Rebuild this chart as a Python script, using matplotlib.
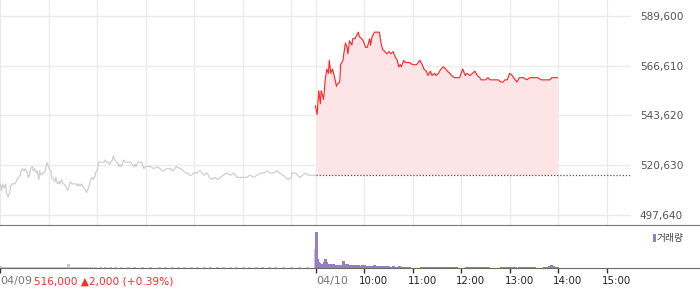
import matplotlib

matplotlib.use("Agg")
import matplotlib.pyplot as plt
from matplotlib.patches import Rectangle

# --- data (prices in thousand won, x in minutes from 09:00 of 04/09) ---
prev_close = 516.0

day1_min = [0, 2, 3, 5, 7, 8, 10, 12, 13, 15,
            16, 18, 20, 21, 23, 25, 26, 28, 30, 31,
            33, 35, 36, 38, 40, 41, 43, 45, 46, 48,
            49, 51, 53, 54, 56, 58, 59, 61, 63, 64,
            66, 68, 69, 71, 73, 74, 76, 78, 79, 81,
            82, 84, 86, 87, 89, 91, 92, 94, 96, 97,
            99, 101, 102, 104, 106, 107, 109, 111, 112, 114,
            115, 117, 119, 120, 122, 124, 125, 127, 129, 130,
            132, 134, 135, 137, 139, 140, 142, 144, 145, 147,
            148, 150, 152, 153, 155, 157, 158, 160, 162, 163,
            165, 167, 168, 170, 172, 173, 175, 177, 178, 180,
            181, 186, 190, 194, 198, 200, 202, 206, 210, 214,
            218, 223, 227, 229, 232, 234, 237, 239, 243, 247,
            250, 252, 256, 259, 262, 266, 269, 272, 276, 280,
            285, 289, 293, 297, 301, 305, 309, 313, 318, 322,
            326, 330, 334, 338, 342, 346, 350, 353, 356, 360,
            361, 365, 368, 371, 374, 378, 381, 386, 390]
day1_price = [512, 509, 512, 510, 512, 508, 506, 508, 511, 512,
              512, 512, 513, 514, 515, 516, 518, 519, 518, 519,
              518, 515, 516, 519, 520, 518, 519, 517, 518, 514,
              518, 516, 517, 517, 518, 522, 521, 519, 518, 515,
              514, 513, 515, 512, 513, 512, 514, 512, 512, 511,
              510, 509, 512, 513, 512, 512, 512, 512, 511, 512,
              511, 512, 511, 510, 509, 508, 510, 512, 514, 515,
              514, 515, 518, 518, 522, 522, 522, 522, 522, 523,
              522, 522, 521, 522, 523, 525, 523, 522, 522, 520,
              521, 520, 522, 523, 522, 522, 522, 522, 522, 521,
              520, 521, 520, 522, 522, 522, 522, 520, 519, 520,
              520, 520, 519, 520, 519, 518, 518, 519, 519, 518,
              520, 519, 518, 517, 517, 516, 516, 517, 517, 518,
              517, 516, 517, 515, 514, 515, 514, 515, 516, 517,
              516, 517, 515, 515, 515, 515, 516, 515, 516, 517,
              517, 518, 517, 517, 518, 517, 516, 515, 514, 515,
              517, 517, 516, 515, 516, 517, 516, 516, 516]

day2_min = [390, 392, 394, 396, 397, 400, 402, 404, 406, 407,
            409, 411, 413, 416, 417, 420, 421, 424, 425, 427,
            429, 430, 432, 435, 436, 439, 440, 443, 444, 447,
            449, 452, 454, 457, 458, 460, 463, 466, 469, 471,
            473, 476, 478, 481, 483, 486, 488, 491, 493, 495,
            496, 499, 501, 504, 506, 510, 515, 517, 519, 522,
            524, 527, 529, 532, 534, 537, 539, 542, 545, 548,
            551, 553, 556, 558, 562, 565, 568, 571, 572, 575,
            577, 581, 584, 587, 590, 593, 595, 598, 600, 603,
            606, 609, 613, 616, 619, 622, 624, 627, 630, 633,
            637, 639, 642, 644, 647, 651, 655, 659, 662, 665,
            669, 672, 675, 677, 680, 682, 685, 689]
day2_price = [548, 544, 555, 549, 555, 551, 560, 565, 563, 569,
              563, 565, 562, 557, 558, 559, 567, 569, 572, 577,
              575, 572, 578, 576, 579, 579, 580, 582, 580, 579,
              578, 575, 575, 579, 576, 580, 582, 582, 582, 577,
              574, 573, 572, 573, 572, 573, 571, 569, 566, 567,
              566, 569, 568, 568, 568, 567, 567, 568, 569, 567,
              565, 564, 562, 564, 562, 563, 562, 563, 565, 566,
              565, 564, 563, 562, 561, 561, 561, 564, 565, 562,
              563, 562, 563, 564, 562, 561, 560, 560, 560, 561,
              560, 560, 560, 560, 559, 559, 560, 560, 563, 562,
              560, 559, 561, 561, 561, 560, 561, 561, 561, 561,
              560, 560, 560, 560, 560, 561, 561, 561]

# volume (arbitrary units)
vol1_min = [0, 2, 4, 6, 8, 10, 12, 14, 16, 18, 20, 22, 24, 26, 28, 30, 32, 34, 36, 38,
            40, 42, 44, 46, 48, 50, 52, 54, 56, 58, 60, 62, 64, 66, 68, 70, 72, 74, 76, 78,
            80, 82, 84, 86, 88, 90, 92, 94, 96, 98, 100,
            104, 108, 112, 118, 124, 130, 136, 142, 150, 158, 166, 176, 186, 196, 204, 212,
            220, 228, 236, 244, 252, 260, 268, 276, 284, 292, 300, 308, 316, 324, 332, 340,
            350, 360, 370, 380, 389]
vol1_val = [2, 1.2, 1.2, 1.2, 1.2, 1.5, 1.5, 1.5, 1.5, 1.5, 1.5, 1.5, 1.5, 1.2, 1.2, 1.2, 1.2, 1.2, 1.5, 1.2,
            1.2, 1.2, 1.2, 1.2, 1.5, 1.2, 1.2, 1.2, 1.2, 1.2, 1.2, 1.2, 1.2, 1.2, 1.2, 1.2, 1.2, 1.2, 1.2, 1.2,
            1.2, 1.2, 4.5, 1.2, 1.2, 1.2, 1.2, 1.2, 1.2, 1.2, 1.2,
            1, 1, 1, 1, 1, 1, 1, 1, 1, 1, 1, 1, 1, 1, 1, 1,
            1, 1, 1, 1, 1, 1, 1, 1, 1, 1, 1, 1, 1, 1, 1, 1,
            1, 1, 1, 1, 19]

vol2_min = list(range(390, 451)) + [
    452, 454, 455, 457, 459, 460, 462, 463, 465, 467, 469, 470, 472, 474, 476, 478,
    480, 482, 484, 486, 488, 490, 493, 496, 498, 501, 503, 506,
    521, 524, 526, 529, 531, 534, 536, 539, 542, 544, 547, 550, 553, 556, 560, 564,
    576, 578, 581, 583, 587, 590, 593, 596, 600, 603,
    619, 621, 624, 626, 628, 631, 634, 637, 641, 645, 649,
    653, 656, 660,
    673, 676, 679, 681, 683, 686, 689]
vol2_val = [36.5, 10, 9.5, 6, 5, 4, 4.5, 3.5, 4, 3, 5, 6.5, 9, 6, 4.5, 3.5, 4, 3, 3.5, 4,
            3, 2.5, 4, 3, 3, 2.5, 3.5, 3, 2.5, 3, 3, 2.5, 3, 3.5, 7, 3, 2.5, 3, 4, 4,
            3, 2.5, 3, 2, 2.5, 3, 2.5, 3.5, 2, 2.5, 3, 2, 2.5, 3, 2.5, 2, 2, 3, 2, 2.5,
            3,
            2, 2, 1.5, 2, 2, 2, 3, 2, 1.5, 2, 2, 1.5, 2, 1.5, 2, 1.5,
            2, 1.5, 1.5, 2, 1.5, 1.5, 2, 1.5, 1.5, 1.5, 1.5, 1.5,
            1.5, 1.5, 1.5, 1.5, 1.5, 1.5, 1.5, 1.5, 1.5, 1.5, 1.5, 1.5, 1.5, 1.5, 1.5, 1.5,
            1.5, 1.5, 1.5, 1.5, 1.5, 1.5, 1.5, 1.5, 1.5, 1.5,
            1.5, 1.5, 1.5, 1.5, 1.5, 1.5, 1.5, 1.5, 1.5, 1.5, 1.5,
            1.5, 1.5, 1.5,
            1.5, 1.5, 2, 3, 2, 1.5, 1.5]

y_ticks = [497.64, 520.63, 543.62, 566.61, 589.60]
y_labels = ["497,640", "520,630", "543,620", "566,610", "589,600"]
grid_x = [0, 60, 120, 180, 240, 300, 360, 390, 450, 510, 570, 630, 690, 750]
time_ticks = [450, 510, 570, 630, 690, 750]
time_labels = ["10:00", "11:00", "12:00", "13:00", "14:00", "15:00"]
change_text = "516,000 \u25b22,000 (+0.39%)"

# --- layout (pixels of a 700x289 canvas) ---
W, H = 700, 289
PX_PER_MIN = 631 / 780
RED = "#ff2a2a"
PURPLE = "#9480c4"

fig = plt.figure(figsize=(W / 100, H / 100), dpi=100)

ax = fig.add_axes([0, 1 - 225 / H, 631 / W, 225 / H])
ax.set_xlim(0, 780)
ax.set_ylim(493.02, 596.85)
for s in ax.spines.values():
    s.set_visible(False)
ax.set_xticks(grid_x)
ax.set_xticklabels([])
ax.tick_params(axis="x", length=0)
ax.yaxis.tick_right()
ax.set_yticks(y_ticks)
ax.set_yticklabels(y_labels)
ax.tick_params(axis="y", length=0, pad=6.3, labelsize=7.6, labelcolor="#555555")
ax.grid(True, color="#ebebeb", lw=1)
ax.set_axisbelow(True)

ax.plot(day1_min, day1_price, color="#c9c9cf", lw=0.8)
ax.fill_between(day2_min, day2_price, prev_close, color="#fde4e7", lw=0, zorder=2)
ax.plot(day2_min, day2_price, color=RED, lw=0.85, zorder=3)
ax.hlines(prev_close, 390, 780, colors="#555555", linestyles=(0, (1, 1.5)), lw=0.9, zorder=3)

# volume panel spans the full width
axv = fig.add_axes([0, 1 - 268 / H, 1, 43 / H])
axv.set_xlim(0, W / PX_PER_MIN)
axv.set_ylim(0, 43)
axv.set_yticks([])
axv.spines["left"].set_visible(False)
axv.spines["right"].set_visible(False)
axv.spines["top"].set_color("#7a7a7a")
axv.spines["bottom"].set_color("#6a6a6a")
axv.set_xticks([0, 390] + time_ticks)
axv.set_xticklabels([])
axv.tick_params(axis="x", length=3.5, width=1, color="#333333", direction="out")
axv.vlines(vol1_min, 0, vol1_val, colors="#c8c8c8", lw=0.8, antialiased=False)
axv.vlines(vol2_min, 0, vol2_val, colors=PURPLE, lw=0.8, antialiased=False)

axv.add_patch(Rectangle((653 / W, (268 - 241.5) / 43), 3 / W, 8 / 43,
                        transform=axv.transAxes, color=PURPLE, lw=0, clip_on=False))
axv.text(657 / W, (268 - 237.5) / 43, "거래량", transform=axv.transAxes, ha="left", va="center",
         fontsize=7, color="#444444", family=["Noto Sans CJK KR", "DejaVu Sans"])

# bottom labels
ly = 1 - 281 / H
fig.text(0, ly, "04/09", ha="left", va="center", fontsize=8, color="#777777")
fig.text(34 / W, ly, change_text, ha="left", va="center", fontsize=7.6, color=RED)
fig.text(316 / W, ly, "04/10", ha="left", va="center", fontsize=8, color="#777777")
for t, lab in zip(time_ticks, time_labels):
    fig.text((t * PX_PER_MIN - 5) / W, ly, lab, ha="left", va="center", fontsize=7.4, color="#222222")

fig.savefig("out.png", dpi=100)
